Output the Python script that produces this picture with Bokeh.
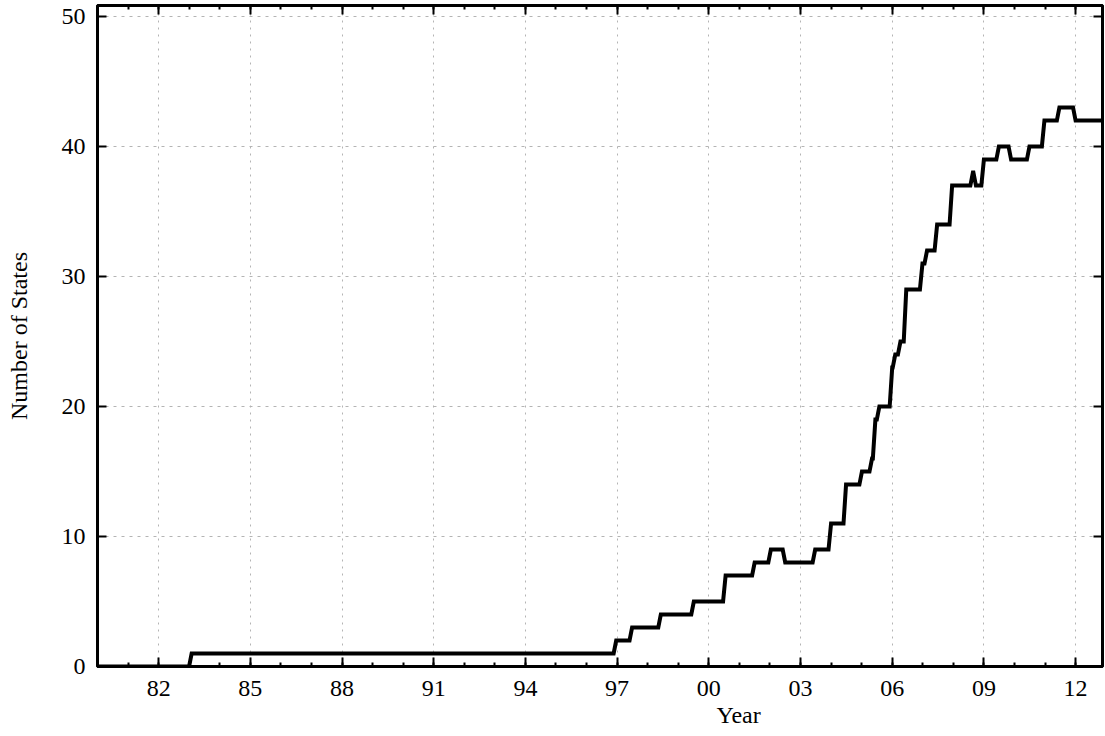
from bokeh.plotting import figure
from bokeh.models import Range1d, FixedTicker, LinearAxis, Title
from bokeh.embed import file_html
from bokeh.resources import INLINE

# ---- data: start year of each level and the number of states at that level ----
level_start = [1980.0, 1983.08, 1996.97, 1997.49, 1998.43, 1999.51, 2000.55,
               2001.50, 2002.03, 2002.50, 2003.48, 2004.00, 2004.49, 2005.01,
               2005.34, 2005.45, 2005.58, 2006.00, 2006.10, 2006.27, 2006.46,
               2006.99, 2007.14, 2007.47, 2007.96, 2008.64, 2008.74, 2009.00,
               2009.49, 2009.89, 2010.49, 2010.98, 2011.47, 2012.00]
level_value = [0, 1, 2, 3, 4, 5, 7,
               8, 9, 8, 9, 11, 14, 15,
               16, 19, 20, 23, 24, 25, 29,
               31, 32, 34, 37, 38, 37, 39,
               40, 39, 40, 42, 43, 42]
end_year = 2012.9

x_ticks = [1982, 1985, 1988, 1991, 1994, 1997, 2000, 2003, 2006, 2009, 2012]
x_tick_labels = ["82", "85", "88", "91", "94", "97", "00", "03", "06", "09", "12"]
x_minor = list(range(1981, 2013))
y_ticks = [0, 10, 20, 30, 40, 50]

x_label = "Year"
y_label = "Number of States"

# build the monthly-transition line from the levels
month = 1.0 / 12.0
xs, ys = [], []
for i, (t, v) in enumerate(zip(level_start, level_value)):
    t_next = level_start[i + 1] if i + 1 < len(level_start) else end_year + month
    t_end = max(t, t_next - month)
    xs += [t, t_end]
    ys += [v, v]

FONT = "Liberation Serif"

p = figure(width=1105, height=736, output_backend="svg", toolbar_location=None,
           x_range=Range1d(1980.0, 2012.88), y_range=Range1d(0, 50.85),
           min_border_left=97, min_border_right=3, min_border_top=5,
           min_border_bottom=70, x_axis_location=None, y_axis_location=None)
p.background_fill_color = "white"
p.border_fill_color = "white"
p.outline_line_color = "black"
p.outline_line_width = 3

xt = FixedTicker(ticks=x_ticks, minor_ticks=x_minor)
yt = FixedTicker(ticks=y_ticks, minor_ticks=[])

def style(ax):
    ax.axis_line_color = "black"
    ax.axis_line_width = 3
    ax.major_tick_in = 9
    ax.major_tick_out = 0
    ax.minor_tick_in = 4
    ax.minor_tick_out = 0
    ax.major_tick_line_width = 2
    ax.minor_tick_line_width = 2
    ax.major_tick_line_color = "black"
    ax.minor_tick_line_color = "black"
    ax.major_label_text_font = FONT
    ax.major_label_text_font_size = "24px"
    ax.major_label_text_color = "black"

bx = LinearAxis(ticker=xt, major_label_overrides=dict(zip(x_ticks, x_tick_labels)))
style(bx)
bx.major_label_standoff = 14
p.add_layout(bx, "below")

ly = LinearAxis(ticker=yt, axis_label=y_label)
style(ly)
ly.major_label_standoff = 12
ly.axis_label_text_font = FONT
ly.axis_label_text_font_size = "24px"
ly.axis_label_text_font_style = "normal"
ly.axis_label_text_color = "black"
ly.axis_label_standoff = 27
p.add_layout(ly, "left")

# frame ticks on top and right, without labels
tx = LinearAxis(ticker=xt, major_label_overrides={t: "" for t in x_ticks})
style(tx)
tx.major_label_standoff = 0
tx.major_label_text_font_size = "1px"
p.add_layout(tx, "above")

ry = LinearAxis(ticker=yt, major_label_overrides={t: "" for t in y_ticks})
style(ry)
ry.major_label_standoff = 0
ry.major_label_text_font_size = "1px"
p.add_layout(ry, "right")

# x-axis title, placed like the reference (right of centre)
xt_title = Title(text=x_label, align="left", offset=619,
                 text_font=FONT, text_font_size="24px",
                 text_font_style="normal", text_color="black", standoff=2)
p.add_layout(xt_title, "below")

# grid
p.xgrid.ticker = xt
p.ygrid.ticker = yt
p.xgrid.grid_line_color = "#b4b4b4"
p.ygrid.grid_line_color = "#b4b4b4"
p.xgrid.grid_line_dash = "2 5"
p.ygrid.grid_line_dash = "3 5"
p.xgrid.grid_line_width = 1
p.ygrid.grid_line_width = 1

p.line(xs, ys, line_color="black", line_width=4, line_join="miter")

open("out.html", "w").write(file_html(p, INLINE))
